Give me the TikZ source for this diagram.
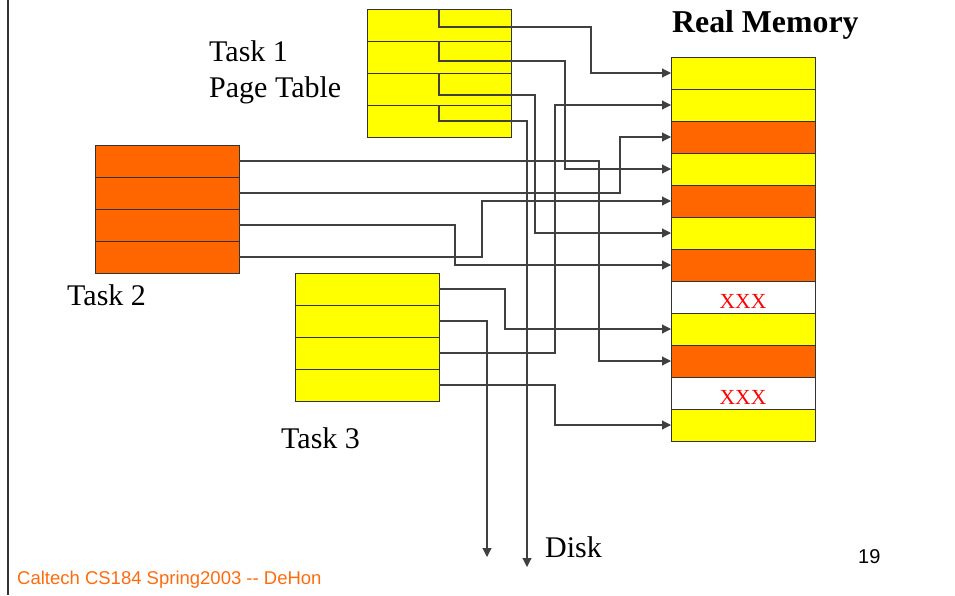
\documentclass[tikz,border=0pt]{standalone}
\usepackage{fontspec}
\setmainfont{Liberation Serif}
\newfontfamily\arialfont{Liberation Sans}
\usetikzlibrary{arrows.meta,calc}
\definecolor{pageyellow}{RGB}{255,255,0}
\definecolor{pageorange}{RGB}{255,102,0}
\definecolor{footorange}{RGB}{255,108,16}
\begin{document}
\begin{tikzpicture}[x=1pt,y=-1pt,
  cell/.style={draw=black!80, line width=0.9pt, minimum width=144pt,
    minimum height=32pt, inner sep=0pt, outer sep=0pt, anchor=north west},
  wire/.style={draw=black!75, line width=1.1pt},
  conn/.style={wire, -{Triangle[length=9pt,width=9pt]}},
  label/.style={font=\fontsize{30}{36}\selectfont, anchor=base west, inner sep=0pt},
  xmark/.style={font=\fontsize{21.5}{26}\selectfont, text=red, anchor=base, inner sep=0pt},
]
\useasboundingbox (0,0) rectangle (955,595);

% slide frame edge
\draw[line width=2.5pt, black!80] (8,0) -- (8,595);

% Task 1 page table
\foreach \i in {1,...,4}
  \node[cell, fill=pageyellow] (t1r\i) at (367,{9+32*(\i-1)}) {};
% Task 2 page table
\foreach \i in {1,...,4}
  \node[cell, fill=pageorange] (t2r\i) at (95,{145+32*(\i-1)}) {};
% Task 3 page table
\foreach \i in {1,...,4}
  \node[cell, fill=pageyellow] (t3r\i) at (295,{273+32*(\i-1)}) {};

% real memory frames
\foreach \c [count=\i] in {pageyellow,pageyellow,pageorange,pageyellow,pageorange,pageyellow,
                           pageorange,white,pageyellow,pageorange,white,pageyellow}
  \node[cell, fill=\c] (m\i) at (671,{57+32*(\i-1)}) {};

\node[xmark] (x1) at ($(m8.south)+(0,-4.5)$) {XXX};
\node[xmark] (x2) at ($(m11.south)+(0,-4.5)$) {XXX};

% labels
\node[label, font=\fontsize{31.8}{36}\selectfont\bfseries] (rmem) at (672,32) {Real Memory};
\node[label] (t1a) at (209,61) {Task 1};
\node[label] (t1b) at (209,97) {Page Table};
\node[label] (t2lab) at (67,305) {Task 2};
\node[label] (t3lab) at (281,448) {Task 3};
\node[label] (disk) at (545,557) {Disk};
\node[anchor=base west, inner sep=0pt, font=\arialfont\fontsize{20}{24}\selectfont] (pnum) at (858,563) {19};
\node[anchor=base west, inner sep=0pt, text=footorange, font=\arialfont\fontsize{18.5}{22}\selectfont] (foot) at (17,584) {Caltech CS184 Spring2003 -- DeHon};

% disk ends
\coordinate (disk1) at (487,557);
\coordinate (disk2) at (527,567);

% Task 1 mappings
\draw[conn] ($(t1r1.north west)+(72,0)$) |- (591,27) |- (m1.west);
\draw[conn] ($(t1r2.north west)+(72,0)$) |- (565,61) |- (m4.west);
\draw[conn] ($(t1r3.north west)+(72,0)$) |- (535,95) |- (m6.west);
\draw[conn] ($(t1r4.north west)+(72,0)$) |- (527,121) -- (disk2);

% Task 2 mappings
\draw[conn] (t2r1.east) -| (599,361) -- (m10.west);
\draw[conn] (t2r2.east) -| (620,137) -- (m3.west);
\draw[conn] (t2r3.east) -| (455,265) -- (m7.west);
\draw[conn] (t2r4.east) -| (482,201) -- (m5.west);

% Task 3 mappings
\draw[conn] (t3r1.east) -| (505,329) -- (m9.west);
\draw[conn] (t3r2.east) -| (disk1);
\draw[conn] (t3r3.east) -| (555,105) -- (m2.west);
\draw[conn] (t3r4.east) -| (555,425) -- (m12.west);
\end{tikzpicture}
\end{document}
